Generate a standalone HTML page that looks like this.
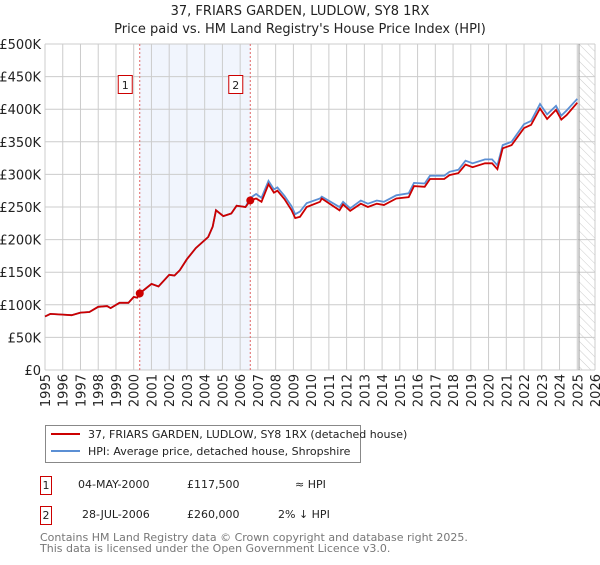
<!DOCTYPE html>
<html><head><meta charset="utf-8"><style>
body{margin:0;background:#fff;font-family:"Liberation Sans","DejaVu Sans",sans-serif;}
svg text{font-family:"DejaVu Sans","Liberation Sans",sans-serif;}
</style></head><body>
<svg id="chart" width="600" height="560" viewBox="0 0 600 560" xmlns="http://www.w3.org/2000/svg">
<defs><pattern id="hatch" width="6" height="6" patternUnits="userSpaceOnUse" patternTransform="rotate(-45)"><line x1="0" y1="0" x2="0" y2="6" stroke="#ccc" stroke-width="1"/></pattern></defs>
<text x="300" y="15" text-anchor="middle" font-size="13" fill="#222">37, FRIARS GARDEN, LUDLOW, SY8 1RX</text>
<text x="300" y="33" text-anchor="middle" font-size="13" fill="#222">Price paid vs. HM Land Registry's House Price Index (HPI)</text>
<g id="plot"></g>
<rect x="45.5" y="425.5" width="315" height="37" fill="#fff" stroke="#888"/>
<line x1="51" y1="434" x2="80" y2="434" stroke="#cc0000" stroke-width="2"/>
<text x="88" y="438" font-size="11" fill="#222">37, FRIARS GARDEN, LUDLOW, SY8 1RX (detached house)</text>
<line x1="51" y1="451" x2="80" y2="451" stroke="#5b8fd4" stroke-width="2"/>
<text x="88" y="455" font-size="11" fill="#222">HPI: Average price, detached house, Shropshire</text>
<g font-size="11" fill="#222">
<rect x="40.5" y="476.5" width="11" height="18" fill="none" stroke="#cc0000"/>
<text x="46" y="489" text-anchor="middle">1</text>
<text x="78" y="488">04-MAY-2000</text><text x="187" y="488">£117,500</text><text x="295" y="488">≈ HPI</text>
</g>
<g font-size="11" fill="#222">
<rect x="40.5" y="506.5" width="11" height="18" fill="none" stroke="#cc0000"/>
<text x="46" y="519" text-anchor="middle">2</text>
<text x="82" y="518">28-JUL-2006</text><text x="187" y="518">£260,000</text><text x="278" y="518">2% ↓ HPI</text>
</g>
<text x="40" y="541" font-size="11" fill="#777">Contains HM Land Registry data © Crown copyright and database right 2025.</text>
<text x="40" y="552" font-size="11" fill="#777">This data is licensed under the Open Government Licence v3.0.</text>
</svg>
<script>
const years=[1995.0,1995.3,1996.0,1996.5,1997.0,1997.5,1998.0,1998.5,1998.7,1999.2,1999.7,2000.0,2000.2,2000.34,2001.0,2001.4,2002.0,2002.3,2002.6,2003.0,2003.5,2004.2,2004.45,2004.64,2005.05,2005.5,2005.8,2006.3,2006.57,2006.9,2007.2,2007.6,2007.9,2008.1,2008.5,2008.9,2009.1,2009.37,2009.75,2010.5,2010.6,2011.1,2011.6,2011.8,2012.2,2012.8,2013.2,2013.7,2014.1,2014.8,2015.5,2015.8,2016.4,2016.7,2017.5,2017.8,2018.3,2018.7,2019.1,2019.8,2020.2,2020.5,2020.8,2021.3,2022.0,2022.4,2022.9,2023.3,2023.8,2024.1,2024.4,2025.0];
const priceSeries=[82,86,85,84,88,89,97,98,95,103,103,112,111,117.5,132,128,146,145,153,170,187,204,220,245,236,240,252,250,260,263,258,285,272,275,262,245,233,235,250,258,263,254,245,254,244,255,250,255,253,263,265,282,281,293,293,299,302,315,311,317,317,308,340,345,371,376,401,385,399,384,391,410];
const hpiSeries=[82,86,85,84,88,89,97,98,95,103,103,112,111,117.5,132,128,146,145,153,170,187,204,220,245,236,240,252,250,264,270,264,290,277,280,267,251,239,243,256,263,266,258,250,258,248,260,255,260,258,268,271,287,286,298,298,304,307,321,317,323,323,314,345,350,377,382,408,392,405,390,398,416];
const yTicks=[0,50,100,150,200,250,300,350,400,450,500];
const yTickLabels=["£0","£50K","£100K","£150K","£200K","£250K","£300K","£350K","£400K","£450K","£500K"];
const xTicks=[1995,1996,1997,1998,1999,2000,2001,2002,2003,2004,2005,2006,2007,2008,2009,2010,2011,2012,2013,2014,2015,2016,2017,2018,2019,2020,2021,2022,2023,2024,2025,2026];
const saleYears=[2000.34,2006.57];
const salePrices=[117.5,260];
const saleLabels=["1","2"];
const X0=45,X1=595,Y0=370,Y1=44;
const xs=y=>X0+(y-1995)/(2026-1995)*(X1-X0);
const ys=v=>Y0-v/500*(Y0-Y1);
const NS="http://www.w3.org/2000/svg";
const g=document.getElementById('plot');
function mk(t,a){const e=document.createElementNS(NS,t);for(const k in a)e.setAttribute(k,a[k]);g.appendChild(e);return e;}
let e;
e=mk('rect',{x:xs(saleYears[0]),y:Y1,width:xs(saleYears[1])-xs(saleYears[0]),height:Y0-Y1,fill:'#eef3fc',opacity:0.8});


e=mk('rect',{x:xs(2025.1),y:Y1,width:X1-xs(2025.1),height:Y0-Y1,fill:'url(#hatch)'});


yTicks.forEach((v,i)=>{
 e=mk('line',{x1:X0,x2:X1,y1:ys(v),y2:ys(v),stroke:'#ccc','stroke-width':1});
 
 
 e=mk('text',{x:X0-4,y:ys(v)+5,'text-anchor':'end','font-size':13,fill:'#222'});
 e.textContent=yTickLabels[i];
 
 
});
xTicks.forEach(yr=>{
 e=mk('line',{x1:xs(yr),x2:xs(yr),y1:Y1,y2:Y0,stroke:'#ccc','stroke-width':1});
 
 
 e=mk('text',{x:0,y:0,'text-anchor':'end','font-size':13,fill:'#222',transform:`translate(${xs(yr)+5},${Y0+4}) rotate(-90)`});
 e.textContent=yr;
 
 
});
e=mk('line',{x1:xs(2025.1),x2:xs(2025.1),y1:Y1,y2:Y0,stroke:'#999','stroke-width':1});


saleYears.forEach((yr,i)=>{
 e=mk('line',{x1:xs(yr),x2:xs(yr),y1:Y1,y2:Y0,stroke:'#e06666','stroke-width':1,'stroke-dasharray':'2,2'});
 
 
});
const pts=arr=>arr.map((v,i)=>xs(years[i]).toFixed(1)+','+ys(v).toFixed(1)).join(' ');
e=mk('polyline',{points:pts(hpiSeries),fill:'none',stroke:'#5b8fd4','stroke-width':1.8});


e=mk('polyline',{points:pts(priceSeries),fill:'none',stroke:'#cc0000','stroke-width':1.8});


saleYears.forEach((yr,i)=>{
 e=mk('circle',{cx:xs(yr),cy:ys(salePrices[i]),r:4,fill:'#cc0000'});
 
 
 e=mk('rect',{x:xs(yr)-21.5,y:75.5,width:14,height:18,fill:'#fff',stroke:'#cc0000'});
 
 
 e=mk('text',{x:xs(yr)-14.5,y:89,'text-anchor':'middle','font-size':11,fill:'#222'});
 e.textContent=saleLabels[i];
 
 
});
</script>
</body></html>
